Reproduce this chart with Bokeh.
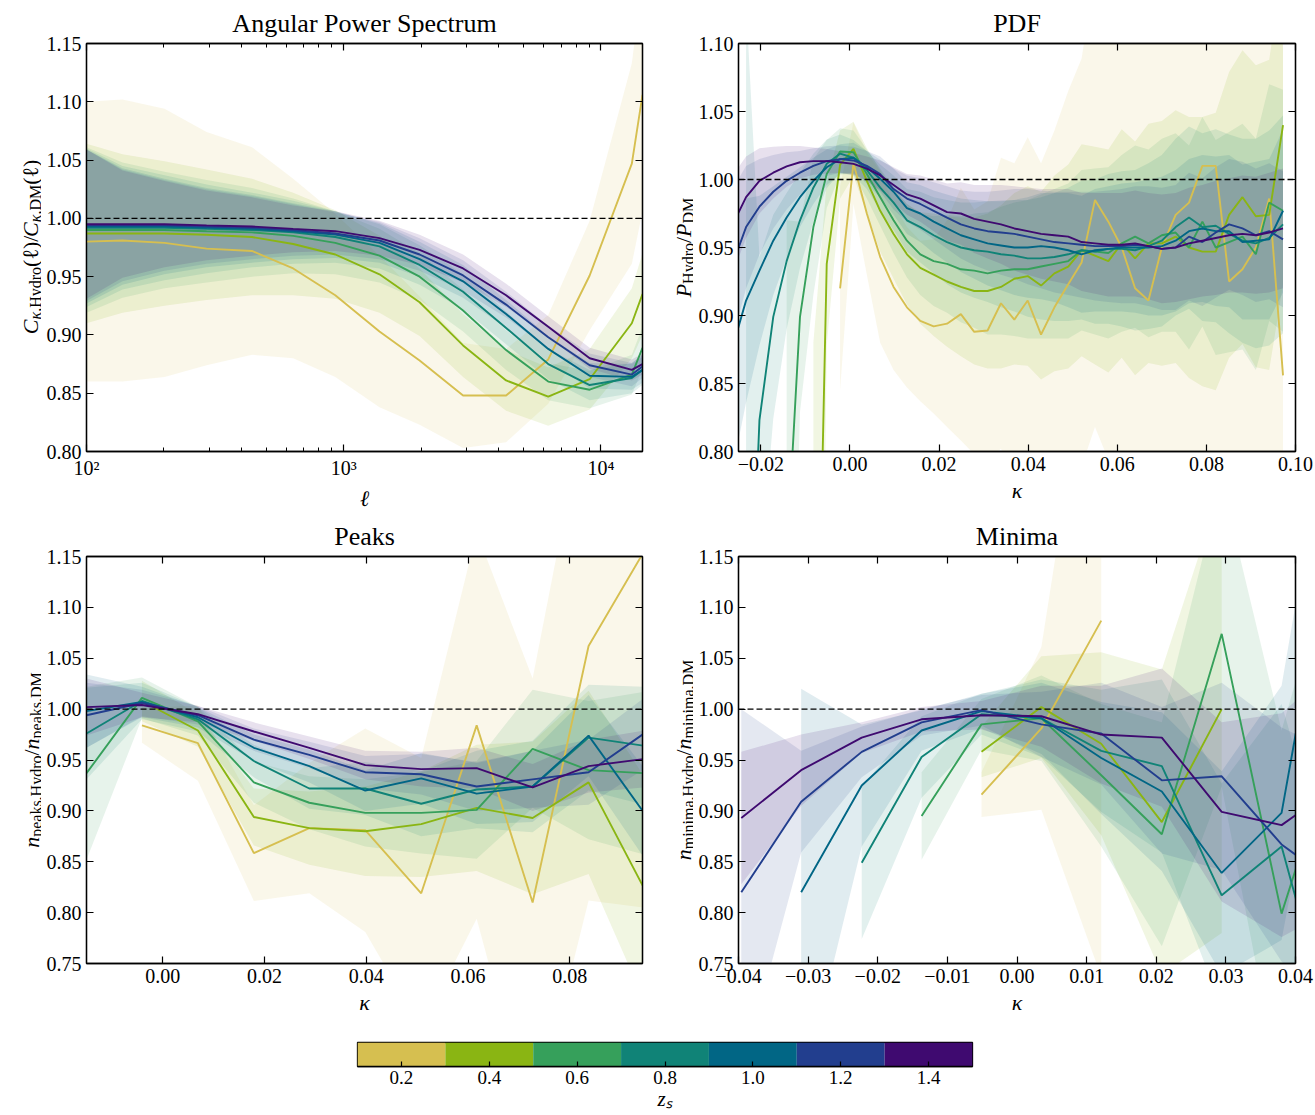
import math
import numpy as np
from bokeh.plotting import figure
from bokeh.layouts import column, row
from bokeh.models import (Range1d, FixedTicker, LinearAxis, LogAxis, Span, Label,
                          CustomJSTickFormatter, Title)
from bokeh.embed import file_html
from bokeh.resources import INLINE

nan = float("nan")

# ---------------------------------------------------------------- data
Z_S = [0.2, 0.4, 0.6, 0.8, 1.0, 1.2, 1.4]
COLORS = ["#d6bf50", "#8ab513", "#36a05b", "#108377", "#016685", "#223e8e", "#3f0a70"]

# Angular power spectrum ratio
ELL = [100, 138, 201, 293, 440, 636, 927, 1377, 1972, 2910, 4277, 6237, 9036, 13180, 14500]
CL_RATIO = [
    [0.980, 0.981, 0.979, 0.974, 0.972, 0.957, 0.934, 0.903, 0.878, 0.848, 0.848, 0.879, 0.951, 1.047, 1.106],
    [0.987, 0.987, 0.987, 0.986, 0.984, 0.978, 0.969, 0.952, 0.928, 0.891, 0.861, 0.847, 0.862, 0.910, 0.935],
    [0.990, 0.990, 0.990, 0.989, 0.988, 0.985, 0.979, 0.968, 0.950, 0.921, 0.887, 0.860, 0.853, 0.866, 0.889],
    [0.992, 0.992, 0.992, 0.991, 0.990, 0.988, 0.984, 0.976, 0.960, 0.937, 0.906, 0.875, 0.857, 0.863, 0.870],
    [0.993, 0.993, 0.993, 0.992, 0.991, 0.989, 0.986, 0.979, 0.965, 0.946, 0.918, 0.888, 0.865, 0.864, 0.870],
    [0.994, 0.994, 0.994, 0.993, 0.992, 0.990, 0.987, 0.981, 0.969, 0.951, 0.926, 0.898, 0.874, 0.866, 0.873],
    [0.995, 0.995, 0.995, 0.994, 0.993, 0.991, 0.989, 0.983, 0.973, 0.957, 0.934, 0.907, 0.880, 0.870, 0.875],
]
CL_ERR = [
    [0.120, 0.121, 0.115, 0.100, 0.089, 0.077, 0.070, 0.065, 0.055, 0.045, 0.040, 0.038, 0.047, 0.086, 0.100],
    [0.077, 0.068, 0.062, 0.056, 0.050, 0.044, 0.038, 0.033, 0.029, 0.027, 0.026, 0.025, 0.026, 0.030, 0.035],
    [0.071, 0.058, 0.050, 0.044, 0.038, 0.032, 0.027, 0.023, 0.020, 0.018, 0.017, 0.016, 0.016, 0.017, 0.018],
    [0.068, 0.053, 0.045, 0.038, 0.032, 0.027, 0.022, 0.019, 0.017, 0.015, 0.014, 0.013, 0.013, 0.013, 0.013],
    [0.066, 0.050, 0.041, 0.034, 0.029, 0.024, 0.020, 0.017, 0.015, 0.014, 0.012, 0.011, 0.011, 0.011, 0.011],
    [0.065, 0.048, 0.039, 0.032, 0.027, 0.022, 0.018, 0.016, 0.014, 0.013, 0.011, 0.010, 0.010, 0.010, 0.010],
    [0.064, 0.046, 0.037, 0.030, 0.025, 0.020, 0.017, 0.015, 0.013, 0.012, 0.010, 0.009, 0.009, 0.009, 0.009],
]

# PDF ratio
PDF_KAPPA = [-0.0263, -0.0233, -0.0203, -0.0172, -0.0142, -0.0112, -0.0082, -0.0052, -0.0022, 0.0008,
             0.0038, 0.0068, 0.0098, 0.0128, 0.0158, 0.0188, 0.0218, 0.0249, 0.0279, 0.0309,
             0.0339, 0.0369, 0.0399, 0.0429, 0.0459, 0.0490, 0.0520, 0.0550, 0.0580, 0.0610,
             0.0640, 0.0670, 0.0700, 0.0731, 0.0761, 0.0791, 0.0821, 0.0851, 0.0881, 0.0911,
             0.0941, 0.0972]
PDF_RATIO = [
    [nan] * 8 + [0.920, 1.012, 0.975, 0.943, 0.921, 0.906, 0.896, 0.892, 0.894, 0.901, 0.888, 0.889,
                 0.909, 0.897, 0.911, 0.886, 0.906, 0.923, 0.939, 0.985, 0.969, 0.950, 0.920, 0.911,
                 0.950, 0.974, 0.983, 1.010, 1.010, 0.925, 0.934, 0.950, 0.986, 0.856],
    [nan] * 6 + [0.480, 0.938, 1.011, 1.0225, 0.999, 0.977, 0.960, 0.945, 0.935, 0.930, 0.925, 0.921,
                 0.918, 0.918, 0.921, 0.927, 0.929, 0.922, 0.931, 0.936, 0.948, 0.944, 0.940, 0.953,
                 0.942, 0.953, 0.953, 0.958, 0.950, 0.947, 0.947, 0.974, 0.987, 0.973, 0.974, 1.040],
    [nan] * 4 + [0.720, 0.899, 0.965, 1.004, 1.0206, 1.020, 1.004, 0.987, 0.970, 0.955, 0.945, 0.940,
                 0.938, 0.934, 0.933, 0.931, 0.933, 0.934, 0.934, 0.936, 0.938, 0.940, 0.948, 0.947,
                 0.946, 0.953, 0.958, 0.953, 0.959, 0.961, 0.950, 0.969, 0.950, 0.954, 0.958, 0.945,
                 0.983, 0.977],
    [nan] + [0.58, 0.823, 0.899, 0.940, 0.970, 0.994, 1.0115, 1.019, 1.016, 1.007, 0.994, 0.983, 0.970,
             0.965, 0.959, 0.954, 0.950, 0.948, 0.947, 0.945, 0.944, 0.942, 0.942, 0.943, 0.945, 0.948,
             0.947, 0.949, 0.949, 0.948, 0.951, 0.955, 0.965, 0.972, 0.965, 0.966, 0.960, 0.955, 0.953,
             0.957, 0.967],
    [0.877, 0.911, 0.933, 0.955, 0.972, 0.987, 0.999, 1.009, 1.015, 1.016, 1.009, 1.0005, 0.991, 0.979,
     0.975, 0.969, 0.964, 0.959, 0.956, 0.953, 0.9515, 0.950, 0.950, 0.951, 0.950, 0.948, 0.945, 0.948,
     0.949, 0.950, 0.950, 0.950, 0.951, 0.955, 0.962, 0.964, 0.962, 0.962, 0.954, 0.955, 0.956, 0.977],
    [0.938, 0.965, 0.980, 0.991, 0.999, 1.005, 1.010, 1.0135, 1.015, 1.014, 1.010, 1.004, 0.993, 0.986,
     0.982, 0.977, 0.972, 0.967, 0.964, 0.962, 0.961, 0.960, 0.958, 0.956, 0.954, 0.953, 0.952, 0.951,
     0.951, 0.951, 0.952, 0.951, 0.949, 0.950, 0.958, 0.954, 0.961, 0.967, 0.964, 0.959, 0.962, 0.956],
    [0.967, 0.987, 0.999, 1.005, 1.0096, 1.0127, 1.0135, 1.0135, 1.0127, 1.0115, 1.008, 1.003, 0.996,
     0.989, 0.986, 0.981, 0.976, 0.975, 0.971, 0.969, 0.967, 0.964, 0.962, 0.960, 0.959, 0.958, 0.954,
     0.953, 0.952, 0.952, 0.953, 0.951, 0.949, 0.950, 0.953, 0.955, 0.957, 0.959, 0.960, 0.959, 0.961,
     0.964],
]
PDF_ERR = [
    [nan] * 8 + [0.075, 0.030, 0.045, 0.063, 0.061, 0.059, 0.059, 0.064, 0.076, 0.093, 0.090, 0.095,
                 0.107, 0.115, 0.120, 0.126, 0.130, 0.142, 0.150, 0.167, 0.175, 0.180, 0.185, 0.190,
                 0.195, 0.200, 0.205, 0.210, 0.215, 0.220, 0.225, 0.230, 0.235, 0.240],
    [nan] * 6 + [0.40, 0.06, 0.025, 0.020, 0.024, 0.030, 0.033, 0.037, 0.041, 0.045, 0.048, 0.051,
                 0.054, 0.057, 0.060, 0.063, 0.066, 0.069, 0.072, 0.075, 0.078, 0.080, 0.082, 0.084,
                 0.086, 0.088, 0.090, 0.093, 0.096, 0.099, 0.102, 0.105, 0.108, 0.111, 0.114, 0.117],
    [nan] * 4 + [0.25, 0.07, 0.05, 0.025, 0.017, 0.016, 0.018, 0.021, 0.024, 0.027, 0.030, 0.033,
                 0.036, 0.039, 0.042, 0.045, 0.047, 0.049, 0.051, 0.053, 0.055, 0.057, 0.059, 0.061,
                 0.063, 0.065, 0.067, 0.069, 0.071, 0.073, 0.075, 0.077, 0.079, 0.081, 0.083, 0.085,
                 0.087, 0.089],
    [nan] + [0.55, 0.12, 0.075, 0.050, 0.035, 0.025, 0.018, 0.014, 0.013, 0.014, 0.017, 0.020, 0.023,
             0.026, 0.028, 0.031, 0.033, 0.035, 0.037, 0.039, 0.041, 0.043, 0.045, 0.047, 0.049, 0.051,
             0.053, 0.055, 0.057, 0.059, 0.061, 0.063, 0.065, 0.067, 0.069, 0.071, 0.073, 0.075, 0.077,
             0.079, 0.080],
    [0.090, 0.075, 0.055, 0.040, 0.030, 0.022, 0.017, 0.013, 0.011, 0.011, 0.012, 0.014, 0.017, 0.019,
     0.021, 0.023, 0.025, 0.027, 0.029, 0.031, 0.033, 0.035, 0.037, 0.039, 0.040, 0.042, 0.043, 0.045,
     0.046, 0.047, 0.048, 0.050, 0.051, 0.052, 0.053, 0.054, 0.055, 0.056, 0.057, 0.058, 0.059, 0.060],
    [0.055, 0.045, 0.035, 0.027, 0.021, 0.016, 0.013, 0.011, 0.010, 0.010, 0.011, 0.013, 0.015, 0.017,
     0.019, 0.021, 0.023, 0.025, 0.027, 0.029, 0.031, 0.033, 0.035, 0.036, 0.037, 0.038, 0.039, 0.040,
     0.041, 0.042, 0.043, 0.044, 0.045, 0.046, 0.047, 0.047, 0.048, 0.048, 0.049, 0.049, 0.050, 0.050],
    [0.036, 0.030, 0.024, 0.019, 0.015, 0.012, 0.010, 0.009, 0.008, 0.008, 0.009, 0.011, 0.013, 0.015,
     0.017, 0.019, 0.021, 0.023, 0.025, 0.027, 0.029, 0.031, 0.032, 0.033, 0.034, 0.035, 0.036, 0.037,
     0.038, 0.038, 0.039, 0.039, 0.040, 0.040, 0.041, 0.041, 0.042, 0.042, 0.043, 0.043, 0.044, 0.044],
]

# Peak counts ratio
PEAK_KAPPA = [-0.0150, -0.0041, 0.0069, 0.0179, 0.0288, 0.0398, 0.0508, 0.0617, 0.0727, 0.0837, 0.0946]
PEAK_RATIO = [
    [nan, 0.984, 0.9665, 0.8585, 0.883, 0.881, 0.819, 0.984, 0.810, 1.062, 1.155],
    [nan, 1.008, 0.979, 0.894, 0.883, 0.880, 0.887, 0.903, 0.893, 0.928, 0.824],
    [0.937, 1.011, 0.988, 0.928, 0.908, 0.898, 0.898, 0.901, 0.961, 0.940, 0.937],
    [0.976, 1.008, 0.990, 0.949, 0.922, 0.922, 0.907, 0.921, 0.924, 0.972, 0.964],
    [0.998, 1.007, 0.992, 0.962, 0.944, 0.920, 0.932, 0.917, 0.924, 0.974, 0.898],
    [0.994, 1.006, 0.994, 0.970, 0.955, 0.938, 0.936, 0.924, 0.931, 0.938, 0.976],
    [1.002, 1.004, 0.995, 0.978, 0.962, 0.945, 0.941, 0.942, 0.923, 0.944, 0.951],
]
PEAK_ERR = [
    [nan, 0.017, 0.037, 0.047, 0.064, 0.100, 0.133, 0.190, 0.220, 0.250, 0.350],
    [nan, 0.020, 0.016, 0.028, 0.036, 0.044, 0.052, 0.062, 0.075, 0.090, 0.110],
    [0.085, 0.020, 0.014, 0.020, 0.026, 0.033, 0.040, 0.048, 0.058, 0.068, 0.080],
    [0.045, 0.018, 0.012, 0.016, 0.020, 0.026, 0.032, 0.038, 0.045, 0.052, 0.058],
    [0.036, 0.015, 0.010, 0.013, 0.016, 0.020, 0.025, 0.030, 0.035, 0.040, 0.044],
    [0.032, 0.013, 0.009, 0.011, 0.013, 0.016, 0.020, 0.024, 0.028, 0.032, 0.035],
    [0.028, 0.012, 0.008, 0.009, 0.011, 0.014, 0.017, 0.020, 0.023, 0.026, 0.028],
]

# Minima counts ratio
MIN_KAPPA = [-0.0396, -0.0310, -0.0223, -0.0137, -0.0051, 0.0035, 0.0121, 0.0208, 0.0294, 0.0380, 0.0466]
MIN_RATIO = [
    [nan, nan, nan, nan, 0.916, 0.981, 1.087, nan, nan, nan, nan],
    [nan, nan, nan, nan, 0.958, 1.002, 0.966, 0.889, 1.000, nan, nan],
    [nan, nan, nan, 0.895, 0.985, 0.991, 0.935, 0.877, 1.074, 0.799, 0.984],
    [nan, nan, 0.849, 0.953, 0.995, 0.991, 0.959, 0.944, 0.817, 0.865, 0.650],
    [nan, 0.820, 0.925, 0.979, 0.998, 0.991, 0.952, 0.919, 0.839, 0.898, 1.227],
    [0.820, 0.909, 0.958, 0.987, 0.999, 0.985, 0.976, 0.930, 0.934, 0.867, 0.824],
    [0.893, 0.940, 0.972, 0.990, 0.994, 0.993, 0.975, 0.972, 0.899, 0.886, 0.928],
]
MIN_ERR = [
    [nan, nan, nan, nan, 0.022, 0.080, 0.350, nan, nan, nan, nan],
    [nan, nan, nan, nan, 0.025, 0.050, 0.090, 0.150, 0.220, nan, nan],
    [nan, nan, nan, 0.043, 0.025, 0.042, 0.070, 0.110, 0.150, 0.180, 0.200],
    [nan, nan, 0.075, 0.040, 0.020, 0.038, 0.060, 0.085, 0.110, 0.140, 0.150],
    [nan, 0.200, 0.060, 0.020, 0.017, 0.035, 0.055, 0.078, 0.100, 0.125, 0.140],
    [0.180, 0.050, 0.025, 0.013, 0.015, 0.032, 0.050, 0.072, 0.092, 0.115, 0.130],
    [0.065, 0.035, 0.015, 0.012, 0.014, 0.030, 0.048, 0.068, 0.088, 0.110, 0.120],
]

# ticks
CL_XTICKS = [100, 1000, 10000]
CL_XMINOR = [200, 300, 400, 500, 600, 700, 800, 900, 2000, 3000, 4000, 5000, 6000, 7000, 8000, 9000]
CL_YTICKS = [0.80, 0.85, 0.90, 0.95, 1.00, 1.05, 1.10, 1.15]
PDF_XTICKS = [-0.02, 0.00, 0.02, 0.04, 0.06, 0.08, 0.10]
PDF_YTICKS = [0.80, 0.85, 0.90, 0.95, 1.00, 1.05, 1.10]
PEAK_XTICKS = [0.00, 0.02, 0.04, 0.06, 0.08]
CNT_YTICKS = [0.75, 0.80, 0.85, 0.90, 0.95, 1.00, 1.05, 1.10, 1.15]
MIN_XTICKS = [-0.04, -0.03, -0.02, -0.01, 0.00, 0.01, 0.02, 0.03, 0.04]

# ---------------------------------------------------------------- helpers
FONT = "Liberation Serif"
TICK_PX = 20
MAIN_PX = 22
SUB_PX = 16
D = 5  # subscript drop in px
BL = 45  # left border of each panel (room for tick labels)

W_ROMAN = {'(': .333, ')': .333, '/': .278, ',': .25, 'ℓ': .42, 'κ': .5, 'D': .722, 'M': .889,
           'H': .722, 'y': .5, 'd': .5, 'r': .333, 'o': .5, 'p': .5, 'e': .444, 'a': .444,
           'k': .5, 's': .389, 'm': .778, 'i': .278, 'n': .5}
W_ITALIC = {'C': .667, 'P': .611, 'n': .5, 'κ': .48, 'z': .389, 's': .389, 'ℓ': .42}


def text_w(t, size, italic):
    tab = W_ITALIC if italic else W_ROMAN
    return sum(tab.get(ch, 0.5) for ch in t) * size


def fmt(nd):
    return CustomJSTickFormatter(code="return tick.toFixed(%d).replace('-', '\u2212');" % nd)


def logfmt():
    return CustomJSTickFormatter(code=(
        "var e = Math.round(Math.log10(tick));"
        "var s = {2: '\u00b2', 3: '\u00b3', 4: '\u2074'};"
        "return '10' + (s[e] || '');"))


def blankfmt():
    return CustomJSTickFormatter(code="return '';")


def style_axis(ax, ticks, minor=(), formatter=None, show=True):
    ax.ticker = FixedTicker(ticks=list(ticks), minor_ticks=list(minor))
    ax.major_tick_in = 7
    ax.major_tick_out = 0
    ax.minor_tick_in = 4 if minor else 0
    ax.minor_tick_out = 0
    ax.major_tick_line_color = "black"
    ax.minor_tick_line_color = "black"
    ax.major_tick_line_width = 1.2
    ax.minor_tick_line_width = 1.0
    ax.axis_line_color = "black"
    ax.axis_line_width = 1.3
    ax.major_label_text_font = FONT
    ax.major_label_text_color = "black"
    if show:
        ax.major_label_text_font_size = "%dpx" % TICK_PX
        ax.major_label_standoff = 5
        if formatter is not None:
            ax.formatter = formatter
    else:
        ax.major_label_text_font_size = "2px"
        ax.major_label_standoff = 0
        ax.formatter = blankfmt()


def make_panel(title, xr, yr, x_log, fw, fh, br, bb, xticks, xminor, xfmt, yticks, xlabel):
    p = figure(x_range=Range1d(*xr), y_range=Range1d(*yr),
               x_axis_type="log" if x_log else "linear",
               frame_width=fw, frame_height=fh,
               min_border_left=BL, min_border_right=br, min_border_top=43, min_border_bottom=bb,
               output_backend="svg", toolbar_location=None,
               background_fill_color="white", border_fill_color="white")
    p.grid.visible = False
    p.outline_line_color = "black"
    p.outline_line_width = 1.3
    p.outline_line_alpha = 1.0
    bottom = p.xaxis[0]
    left = p.yaxis[0]
    style_axis(bottom, xticks, xminor, xfmt)
    style_axis(left, yticks, (), fmt(2))
    bottom.axis_label = xlabel
    bottom.axis_label_text_font = FONT
    bottom.axis_label_text_font_size = "%dpx" % MAIN_PX
    bottom.axis_label_text_font_style = "italic"
    bottom.axis_label_text_color = "black"
    bottom.axis_label_standoff = 4
    top = LogAxis() if x_log else LinearAxis()
    style_axis(top, xticks, xminor, show=False)
    p.add_layout(top, "above")
    right = LinearAxis()
    style_axis(right, yticks, (), show=False)
    p.add_layout(right, "right")
    p.add_layout(Title(text=title, align="center", text_font=FONT, text_font_size="26px",
                       text_font_style="normal", text_color="black", standoff=11), "above")
    return p


def draw(p, xs, rows, errs):
    xs = np.asarray(xs, float)
    for y, e, c in zip(rows, errs, COLORS):
        y = np.asarray(y, float)
        e = np.asarray(e, float)
        m = np.isfinite(y) & np.isfinite(e)
        p.varea(x=xs[m], y1=y[m] - e[m], y2=y[m] + e[m], fill_color=c, fill_alpha=0.12)
    p.add_layout(Span(location=1.0, dimension="width", line_color="black",
                      line_width=1.3, line_dash="6 3"))
    for y, c in zip(rows, COLORS):
        y = np.asarray(y, float)
        m = np.isfinite(y)
        p.line(xs[m], y[m], line_color=c, line_width=1.9)


def label_fig(w, top, fh, bottom, base_x, pieces):
    """Narrow strip (frame aligned with the panel frame) holding a rotated,
    subscripted axis label; data units = pixels inside the strip frame."""
    f = figure(x_range=Range1d(0, w), y_range=Range1d(0, fh), frame_width=w, frame_height=fh,
               min_border_left=0, min_border_right=0, min_border_top=top, min_border_bottom=bottom,
               x_axis_location=None, y_axis_location=None,
               output_backend="svg", toolbar_location=None,
               background_fill_color="white", border_fill_color="white")
    f.outline_line_color = None
    f.grid.visible = False
    widths = [text_w(t, s, it) for t, s, it, d in pieces]
    cur = fh / 2.0 - sum(widths) / 2.0
    for (t, s, it, d), wd in zip(pieces, widths):
        f.add_layout(Label(x=base_x + d, y=cur, text=t, angle=math.pi / 2, text_font=FONT,
                           text_font_size="%dpx" % s, text_font_style="italic" if it else "normal",
                           text_align="left", text_baseline="alphabetic", text_color="black"))
        cur += wd
    return f


WL = 86 - BL   # width of left label strip
WR = 78 - BL   # width of right label strip

# ---------------------------------------------------------------- panels
p1 = make_panel("Angular Power Spectrum", (100, 14500), (0.80, 1.15), True, 556, 408, 18, 61,
                CL_XTICKS, CL_XMINOR, logfmt(), CL_YTICKS, "ℓ")
draw(p1, ELL, CL_RATIO, CL_ERR)
l1 = label_fig(WL, 43, 408, 61, 30,
               [("C", MAIN_PX, True, 0), ("κ", SUB_PX, True, D), (",Hydro", SUB_PX, False, D),
                ("(ℓ)/", MAIN_PX, False, 0), ("C", MAIN_PX, True, 0), ("κ", SUB_PX, True, D),
                (",DM", SUB_PX, False, D), ("(ℓ)", MAIN_PX, False, 0)])

p2 = make_panel("PDF", (-0.025, 0.10), (0.80, 1.10), False, 557, 408, 20, 61,
                PDF_XTICKS, (), fmt(2), PDF_YTICKS, "κ")
draw(p2, PDF_KAPPA, PDF_RATIO, PDF_ERR)
l2 = label_fig(WR, 43, 408, 61, 23,
               [("P", MAIN_PX, True, 0), ("Hydro", SUB_PX, False, D), ("/", MAIN_PX, False, 0),
                ("P", MAIN_PX, True, 0), ("DM", SUB_PX, False, D)])

p3 = make_panel("Peaks", (-0.0150, 0.0943), (0.75, 1.15), False, 556, 407, 18, 58,
                PEAK_XTICKS, (), fmt(2), CNT_YTICKS, "κ")
draw(p3, PEAK_KAPPA, PEAK_RATIO, PEAK_ERR)
l3 = label_fig(WL, 43, 407, 58, 31,
               [("n", MAIN_PX, True, 0), ("peaks,Hydro", SUB_PX, False, D), ("/", MAIN_PX, False, 0),
                ("n", MAIN_PX, True, 0), ("peaks,DM", SUB_PX, False, D)])

p4 = make_panel("Minima", (-0.04, 0.04), (0.75, 1.15), False, 557, 407, 20, 58,
                MIN_XTICKS, (), fmt(2), CNT_YTICKS, "κ")
draw(p4, MIN_KAPPA, MIN_RATIO, MIN_ERR)
l4 = label_fig(WR, 43, 407, 58, 23,
               [("n", MAIN_PX, True, 0), ("minima,Hydro", SUB_PX, False, D), ("/", MAIN_PX, False, 0),
                ("n", MAIN_PX, True, 0), ("minima,DM", SUB_PX, False, D)])

# ---------------------------------------------------------------- colorbar
cb = figure(x_range=Range1d(0.1, 1.5), y_range=Range1d(0, 1), frame_width=615, frame_height=24,
            min_border_left=357, min_border_right=343, min_border_top=21, min_border_bottom=50,
            output_backend="svg", toolbar_location=None,
            background_fill_color="white", border_fill_color="white")
cb.quad(left=[z - 0.1 for z in Z_S], right=[z + 0.1 for z in Z_S], bottom=0, top=1,
        fill_color=COLORS, line_color=None)
cb.grid.visible = False
cb.yaxis.visible = False
cb.outline_line_color = "black"
cb.outline_line_width = 1.3
cax = cb.xaxis[0]
style_axis(cax, Z_S, (), fmt(1))
cax.major_tick_in = 5
cax.major_label_text_font_size = "19px"
cax.major_label_standoff = 4
cax.axis_label = "zₛ"
cax.axis_label_text_font = FONT
cax.axis_label_text_font_size = "21px"
cax.axis_label_text_font_style = "italic"
cax.axis_label_text_color = "black"
cax.axis_label_standoff = 0

layout = column(row(l1, p1, l2, p2), row(l3, p3, l4, p4), cb)
open("out.html", "w", encoding="utf-8").write(file_html(layout, INLINE))
